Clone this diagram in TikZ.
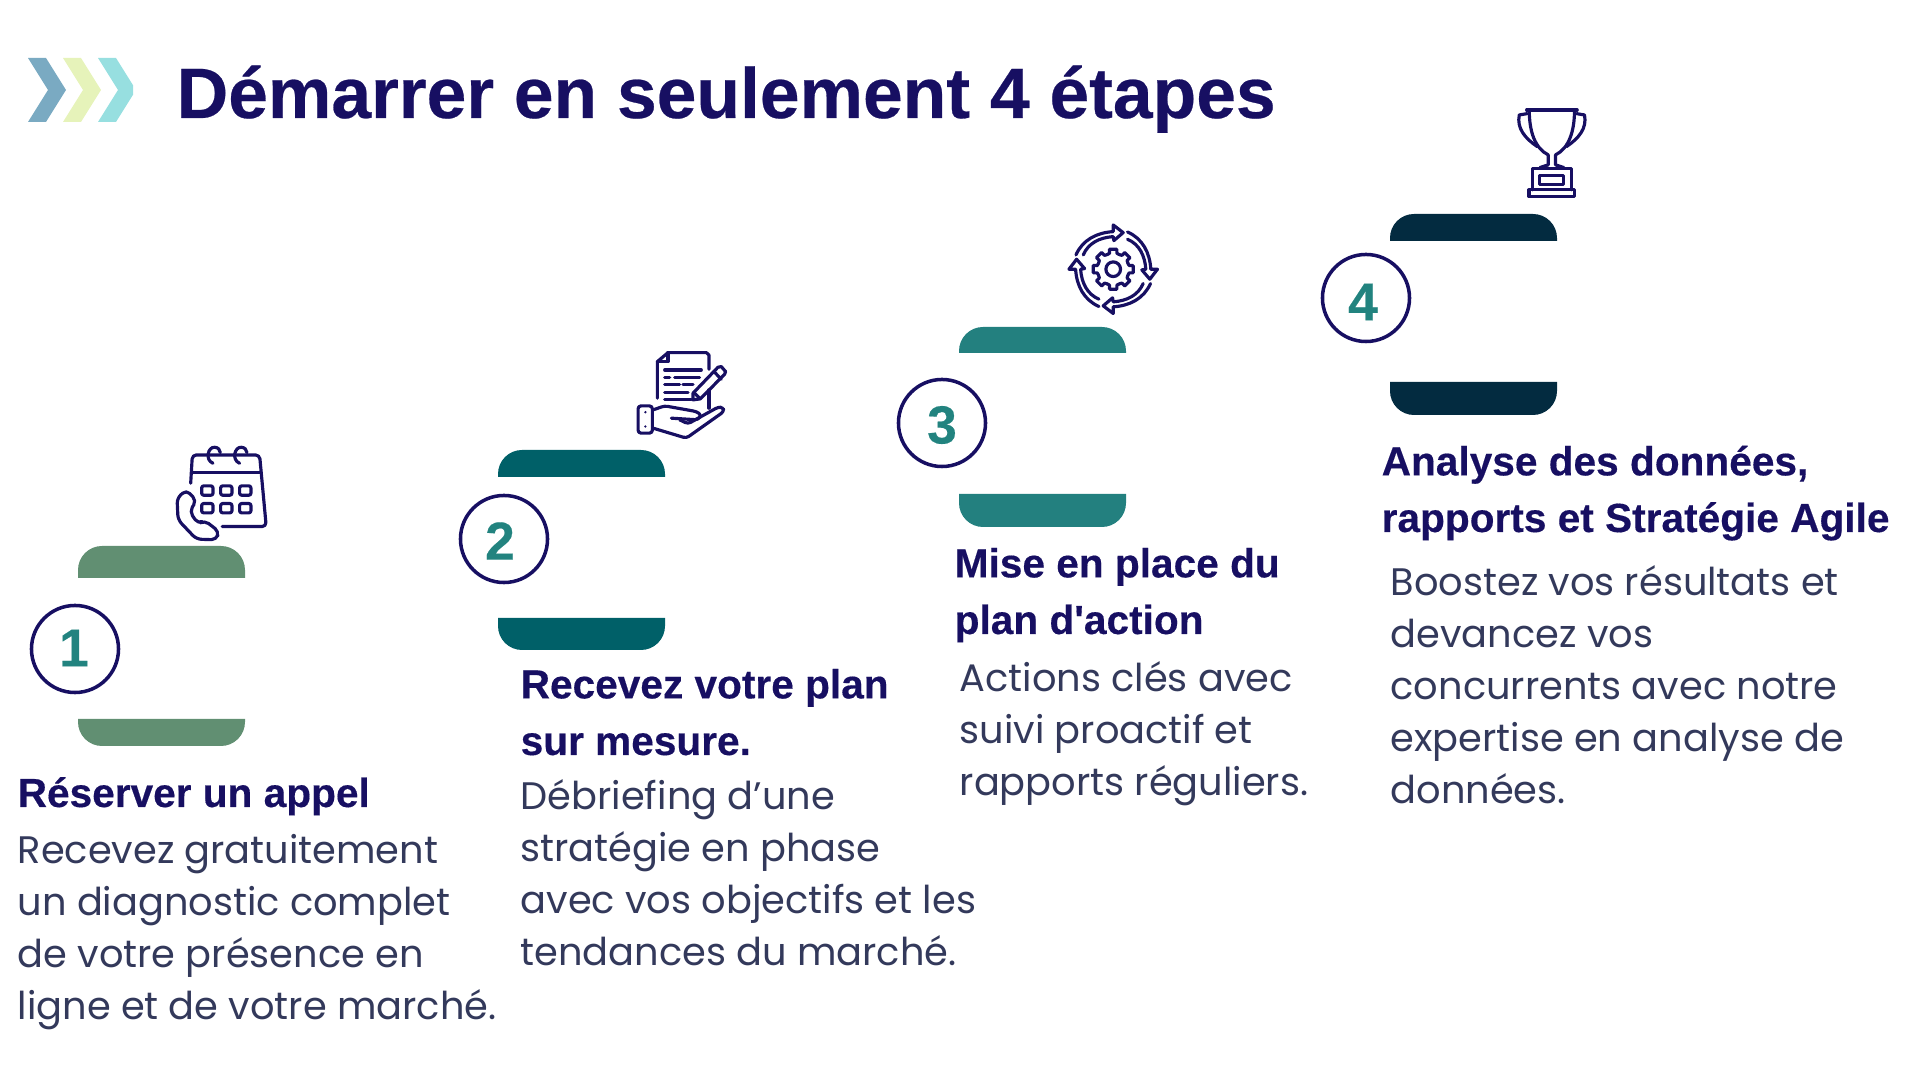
\documentclass[tikz,border=0pt]{standalone}
\usepackage{fontspec}
\setmainfont{Liberation Sans}[Ligatures=TeXOff, BoldFeatures={FakeBold=0.35}]
\newfontfamily\bodyfont{Poppins}
\definecolor{navy}{HTML}{170F62}
\definecolor{bodygrey}{HTML}{33395B}
\definecolor{numteal}{HTML}{22837F}
\definecolor{stepgreen}{HTML}{618F72}
\definecolor{steppetrol}{HTML}{006068}
\definecolor{stepteal}{HTML}{23807F}
\definecolor{stepdark}{HTML}{032B40}
\tikzset{
    titletext/.style={anchor=base west, inner sep=0pt, text=navy, font=\fontsize{20.3}{24}\selectfont\bfseries},
    headtext/.style={anchor=base west, inner sep=0pt, align=left, text=navy, font=\fontsize{11.55}{16.1}\selectfont\bfseries},
    bodytext/.style={anchor=base west, inner sep=0pt, align=left, text=bodygrey, font=\fontsize{10.9}{14.85}\selectfont\bodyfont},
    stepcircle/.style={circle, draw=navy, line width=1pt, minimum size=0.87cm, inner sep=0pt},
    stepnum/.style={inner sep=0pt, text=numteal, font=\fontsize{15.2}{16}\selectfont\bfseries},
    iconline/.style={draw=navy, line width=0.9pt, line cap=round, line join=round},
}
\begin{document}
\begin{tikzpicture}[x=0.01cm, y=-0.01cm]
    \useasboundingbox (0,0) rectangle (1920,1080);

    % Chevrons
    \begin{scope}
        \clip (0,0) rectangle (133,150);
        \foreach \x/\col in {28/7AAAC2, 63/E6F3BA, 98/97DFE0} {
            \definecolor{chevcol}{HTML}{\col}
            \fill[chevcol] (\x,58) -- (\x+18,58) -- (\x+38,90) -- (\x+18,122) -- (\x,122) -- (\x+20,90) -- cycle;
        }
    \end{scope}

    % Title
    \node[titletext] (title) at (176,118) {Démarrer en seulement 4 étapes};

    % Step bars
    \foreach \x/\ya/\yb/\yc/\yd/\col in {78/546/578/719/746/stepgreen, 498/450/477/618/650/steppetrol, 959/327/353/494/527/stepteal, 1390/214/241/382/415/stepdark} {
        \fill[\col, rounded corners=0.24cm] (\x,\yb) -- (\x,\ya) -- (\x+167,\ya) -- (\x+167,\yb);
        \fill[\col, rounded corners=0.24cm] (\x,\yc) -- (\x,\yd) -- (\x+167,\yd) -- (\x+167,\yc);
    }

    % Number circles
    \node[stepcircle] (circle1) at (75,649) {};
    \node[stepcircle] (circle2) at (504,539) {};
    \node[stepcircle] (circle3) at (942,423) {};
    \node[stepcircle] (circle4) at (1366,298) {};
    \node[stepnum] (num1) at (74,648) {1};
    \node[stepnum] (num2) at (500,541) {2};
    \node[stepnum] (num3) at (942,425) {3};
    \node[stepnum] (num4) at (1363,302) {4};

    % Step 1
    \node[headtext] (head1) at (17,807) {Réserver un appel};
    \node[bodytext] (body1) at (17,1020) {Recevez gratuitement\\un diagnostic complet\\de votre présence en\\ligne et de votre marché.};

    % Step 2
    \node[headtext] (head2) at (520,755) {Recevez votre plan\\sur mesure.};
    \node[bodytext] (body2) at (520,966) {Débriefing d’une\\stratégie en phase\\avec vos objectifs et les\\tendances du marché.};

    % Step 3
    \node[headtext] (head3) at (954,634) {Mise en place du\\plan d'action};
    \node[bodytext] (body3) at (959,796) {Actions clés avec\\suivi proactif et\\rapports réguliers.};

    % Step 4
    \node[headtext] (head4) at (1381,532) {Analyse des données,\\rapports et Stratégie Agile};
    \node[bodytext] (body4) at (1390,804) {Boostez vos résultats et\\devancez vos\\concurrents avec notre\\expertise en analyse de\\données.};

    % Calendar icon
    \begin{scope}[shift={(0,430)}, x=0.00333cm, y=-0.00333cm, iconline]
        \draw[rounded corners=0.04cm] (573,160) -- (578,75) -- (780,75) -- (800,290) -- (668,290);
        \draw (575,127) -- (785,127);
        \draw (640,100) .. controls (615,90) and (625,50) .. (645,52) .. controls (655,52) and (662,60) .. (662,68);
        \draw (720,100) .. controls (695,90) and (705,50) .. (725,52) .. controls (735,52) and (742,60) .. (742,68);
        \foreach \x in {623,680,737}
            \foreach \y in {182,235}
                \draw[rounded corners=0.02cm] (\x-17,\y-14) rectangle (\x+17,\y+14);
        \draw[rounded corners=0.05cm] (560,180) -- (532,205) -- (535,270) -- (590,328) -- (650,330) -- (658,305) -- (615,272) -- (595,282) -- (570,245) -- (590,212) -- cycle;
    \end{scope}

    % Document and hand icon
    \begin{scope}[shift={(480,330)}, x=0.00333cm, y=-0.00333cm, iconline]
        \draw (533,205) -- (533,95) -- (565,68) -- (680,68) -- (688,75) -- (688,118);
        \draw (688,180) -- (688,235);
        \draw (565,68) -- (565,95) -- (533,95);
        \draw (555,120) -- (665,120);
        \draw (555,143) -- (570,143);
        \draw (585,143) -- (660,143);
        \draw (555,165) -- (600,165);
        \draw (610,165) -- (640,165);
        \draw (555,187) -- (625,187);
        \draw (555,210) -- (635,210);
        \draw (640,190) -- (715,112) -- (725,110) -- (738,125) -- (735,133) -- (662,207) -- (640,210) -- cycle;
        \draw (703,125) -- (725,148);
        \draw (645,190) -- (660,205);
        \draw[rounded corners=0.03cm] (475,228) rectangle (518,310);
        \fill[navy] (497,247) circle (4);
        \fill[navy] (497,290) circle (4);
        \draw[rounded corners=0.03cm] (520,240) -- (555,228) -- (650,245) -- (665,255) -- (655,270) -- (575,265);
        \draw[rounded corners=0.03cm] (520,295) -- (620,325) -- (733,245) -- (730,232) -- (715,232) -- (625,282) -- (600,270);
    \end{scope}

    % Gear and arrows icon
    \begin{scope}[shift={(1040,210)}, x=0.00333cm, y=-0.00333cm, iconline]
        \begin{scope}[shift={(220,178)}]
            \draw (0,0) circle (22);
            \foreach \a in {0,45,...,315}
                \draw[rotate=\a] (44,-18) -- (48,-11) -- (60,-11) -- (60,11) -- (48,11) -- (44,18);
            \foreach \a in {0,90,180,270}
                \draw[rotate=\a] (-112,-43) .. controls (-92,-88) and (-50,-110) .. (0,-113) -- (0,-133) -- (30,-110) -- (2,-86) -- (0,-98) .. controls (-42,-95) and (-75,-78) .. (-90,-43);
        \end{scope}
    \end{scope}

    % Trophy icon
    \begin{scope}[shift={(1480,95)}, x=0.00333cm, y=-0.00333cm, iconline]
        \draw (140,45) -- (292,45);
        \draw (148,45) .. controls (148,110) and (165,160) .. (205,180) -- (205,210) -- (180,218);
        \draw (284,45) .. controls (284,110) and (267,160) .. (227,180) -- (227,210) -- (252,218);
        \draw (142,56) -- (118,60) .. controls (110,100) and (135,130) .. (172,155);
        \draw (290,56) -- (314,60) .. controls (322,100) and (297,130) .. (260,155);
        \draw (157,285) -- (157,222) -- (275,222) -- (275,285);
        \draw (178,243) rectangle (250,268);
        \draw (147,285) rectangle (285,305);
    \end{scope}
\end{tikzpicture}
\end{document}
